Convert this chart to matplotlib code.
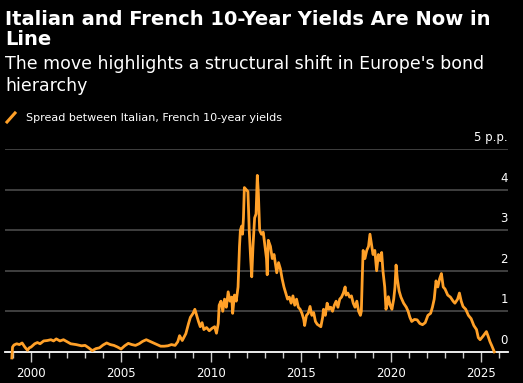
import numpy as np
import matplotlib
matplotlib.use("Agg")
import matplotlib.pyplot as plt
from matplotlib.ticker import MultipleLocator, FixedLocator

# spread between Italian and French 10-year yields (p.p.)
years = [1998.93, 1998.97, 1999.05, 1999.2, 1999.35, 1999.5, 1999.65, 1999.8, 1999.9,
         2000.0, 2000.2, 2000.35, 2000.5, 2000.7, 2000.9, 2001.1, 2001.25, 2001.4,
         2001.6, 2001.8, 2002.0, 2002.2, 2002.5, 2002.8, 2003.0, 2003.2, 2003.4,
         2003.6, 2003.8, 2004.0, 2004.2, 2004.4, 2004.6, 2004.8, 2005.0, 2005.2,
         2005.4, 2005.6, 2005.8, 2006.0, 2006.2, 2006.4, 2006.6, 2006.8, 2007.0,
         2007.2, 2007.4, 2007.6, 2007.8, 2008.0, 2008.15, 2008.25, 2008.4, 2008.6,
         2008.75, 2008.85, 2009.0, 2009.1, 2009.2, 2009.3, 2009.4, 2009.5, 2009.6,
         2009.75, 2009.9, 2010.05, 2010.2, 2010.3, 2010.4, 2010.45, 2010.55, 2010.65,
         2010.75, 2010.85, 2010.95, 2011.05, 2011.15, 2011.2, 2011.3, 2011.4, 2011.5,
         2011.58, 2011.63, 2011.7, 2011.75, 2011.8, 2011.85, 2011.95, 2012.05, 2012.12,
         2012.2, 2012.26, 2012.33, 2012.42, 2012.5, 2012.57, 2012.63, 2012.7, 2012.8,
         2012.9, 2013.0, 2013.08, 2013.12, 2013.18, 2013.3, 2013.4, 2013.5, 2013.6,
         2013.65, 2013.75, 2013.85, 2013.95, 2014.05, 2014.15, 2014.25, 2014.35,
         2014.45, 2014.55, 2014.65, 2014.75, 2014.85, 2014.95, 2015.05, 2015.15,
         2015.2, 2015.3, 2015.4, 2015.5, 2015.6, 2015.7, 2015.8, 2015.9, 2016.0,
         2016.1, 2016.2, 2016.25, 2016.35, 2016.45, 2016.55, 2016.65, 2016.75,
         2016.85, 2016.95, 2017.05, 2017.15, 2017.25, 2017.35, 2017.45, 2017.5,
         2017.6, 2017.7, 2017.8, 2017.9, 2018.0, 2018.1, 2018.2, 2018.3, 2018.35,
         2018.4, 2018.45, 2018.55, 2018.65, 2018.75, 2018.83, 2018.9, 2019.0, 2019.1,
         2019.2, 2019.3, 2019.4, 2019.48, 2019.55, 2019.65, 2019.72, 2019.8, 2019.85,
         2019.95, 2020.05, 2020.15, 2020.22, 2020.28, 2020.35, 2020.45, 2020.55,
         2020.7, 2020.85, 2020.95, 2021.05, 2021.15, 2021.3, 2021.45, 2021.6, 2021.75,
         2021.9, 2022.05, 2022.2, 2022.3, 2022.4, 2022.5, 2022.6, 2022.7, 2022.8,
         2022.9, 2023.0, 2023.15, 2023.3, 2023.45, 2023.55, 2023.7, 2023.8, 2023.9,
         2024.0, 2024.15, 2024.3, 2024.45, 2024.6, 2024.75, 2024.85, 2024.95, 2025.1,
         2025.3, 2025.4, 2025.5, 2025.6, 2025.74]
spread = [-0.15, 0.12, 0.17, 0.2, 0.18, 0.22, 0.12, 0.04, 0.1,
          0.12, 0.2, 0.23, 0.2, 0.27, 0.28, 0.3, 0.27, 0.32,
          0.27, 0.3, 0.25, 0.2, 0.18, 0.15, 0.16, 0.1, 0.03,
          0.08, 0.1, 0.17, 0.22, 0.18, 0.16, 0.12, 0.07, 0.15,
          0.21, 0.18, 0.16, 0.2, 0.26, 0.3, 0.26, 0.22, 0.18,
          0.14, 0.14, 0.15, 0.18, 0.16, 0.25, 0.4, 0.28, 0.45,
          0.7, 0.85, 0.95, 1.05, 0.9, 0.75, 0.62, 0.72, 0.55,
          0.6, 0.52, 0.58, 0.62, 0.46, 0.7, 1.15, 1.25, 1.0,
          1.3, 1.1, 1.48, 1.25, 1.35, 0.95, 1.4, 1.25, 1.6,
          2.6, 3.0, 3.1, 2.9, 3.3, 4.05, 4.0, 3.95, 3.0,
          2.3, 1.85, 2.6, 3.3, 3.4, 4.35, 3.9, 3.0, 2.9,
          2.95, 2.6, 2.3, 1.9, 2.75, 2.6, 2.3, 2.4, 2.1,
          1.95, 2.2, 2.05, 1.8, 1.6, 1.45, 1.3, 1.35,
          1.2, 1.38, 1.15, 1.3, 1.1, 1.05, 0.95, 0.8,
          0.65, 0.9, 0.95, 1.12, 0.9, 0.97, 0.75, 0.68, 0.65,
          0.62, 0.85, 1.05, 0.9, 1.2, 1.05, 1.1, 1.0,
          1.15, 1.25, 1.1, 1.3, 1.35, 1.45, 1.6, 1.4,
          1.45, 1.35, 1.38, 1.2, 1.1, 1.25, 1.0, 0.9, 1.0,
          1.8, 2.5, 2.3, 2.5, 2.6, 2.9, 2.7, 2.4, 2.5,
          2.0, 2.4, 2.25, 2.45, 2.0, 1.6, 1.05, 1.2, 1.36,
          1.15, 1.05, 1.3, 1.6, 2.14, 1.8, 1.5, 1.35,
          1.2, 1.1, 1.0, 0.85, 0.75, 0.8, 0.79, 0.7, 0.67,
          0.72, 0.9, 0.95, 1.1, 1.3, 1.75, 1.6, 1.8, 1.93,
          1.6, 1.55, 1.4, 1.35, 1.25, 1.2, 1.3, 1.45, 1.25,
          1.12, 1.05, 0.9, 0.82, 0.65, 0.55, 0.35, 0.3, 0.38,
          0.5, 0.38, 0.25, 0.15, 0.0]

y_ticks = [0, 1, 2, 3, 4, 5]
y_labels = ['0', '1', '2', '3', '4', '5 p.p.']
x_major = [2000, 2005, 2010, 2015, 2020, 2025]

title = "Italian and French 10-Year Yields Are Now in\nLine"
subtitle = "The move highlights a structural shift in Europe's bond\nhierarchy"
legend_text = "Spread between Italian, French 10-year yields"

orange = '#ffa028'
W, H = 523, 383

fig = plt.figure(figsize=(W / 100, H / 100), dpi=100, facecolor='black')
# axes: x 5..508 px, y 149 (5.0) .. 360 (-0.2)
ax = fig.add_axes([5 / W, 1 - 360 / H, 503 / W, 211 / H], facecolor='black')
ax.set_xlim(1998.55, 2026.5)
ax.set_ylim(-0.2, 5.0)

for v in y_ticks[1:]:
    ax.axhline(v, color='#4a4a4a', lw=1.2, zorder=1)
ax.plot(years, spread, color=orange, lw=2.0, zorder=3, clip_on=False,
        solid_joinstyle='round')

for s in ['top', 'right', 'left']:
    ax.spines[s].set_visible(False)
ax.spines['bottom'].set_position(('data', 0))
ax.spines['bottom'].set_color('white')
ax.spines['bottom'].set_linewidth(1.3)
ax.spines['bottom'].set_zorder(2)

ax.xaxis.set_major_locator(FixedLocator(x_major))
ax.xaxis.set_minor_locator(MultipleLocator(1))
ax.set_xticks(x_major)
ax.set_xticklabels([str(y) for y in x_major])
ax.tick_params(axis='x', which='major', length=7, width=1, color='#cccccc',
               labelcolor='white', labelsize=8.5, pad=4)
ax.tick_params(axis='x', which='minor', length=4, width=1, color='#cccccc')
ax.set_yticks([])

for v, lab in zip(y_ticks, y_labels):
    ax.text(2026.5, v + 0.12, lab, color='white', fontsize=8.5,
            ha='right', va='bottom', transform=ax.transData)

fig.text(5 / W, 1 - 10 / H, title, color='white', fontsize=14,
         fontweight='bold', ha='left', va='top', linespacing=1.09)
fig.text(5 / W, 1 - 55 / H, subtitle, color='white', fontsize=12.5,
         ha='left', va='top', linespacing=1.27)
fig.lines.append(plt.Line2D([7 / W, 15 / W], [1 - 122 / H, 1 - 113 / H],
                            transform=fig.transFigure, color=orange, lw=2.2))
fig.text(26 / W, 1 - 118 / H, legend_text, color='white', fontsize=8,
         ha='left', va='center')

fig.savefig('out.png', dpi=100, facecolor='black')
